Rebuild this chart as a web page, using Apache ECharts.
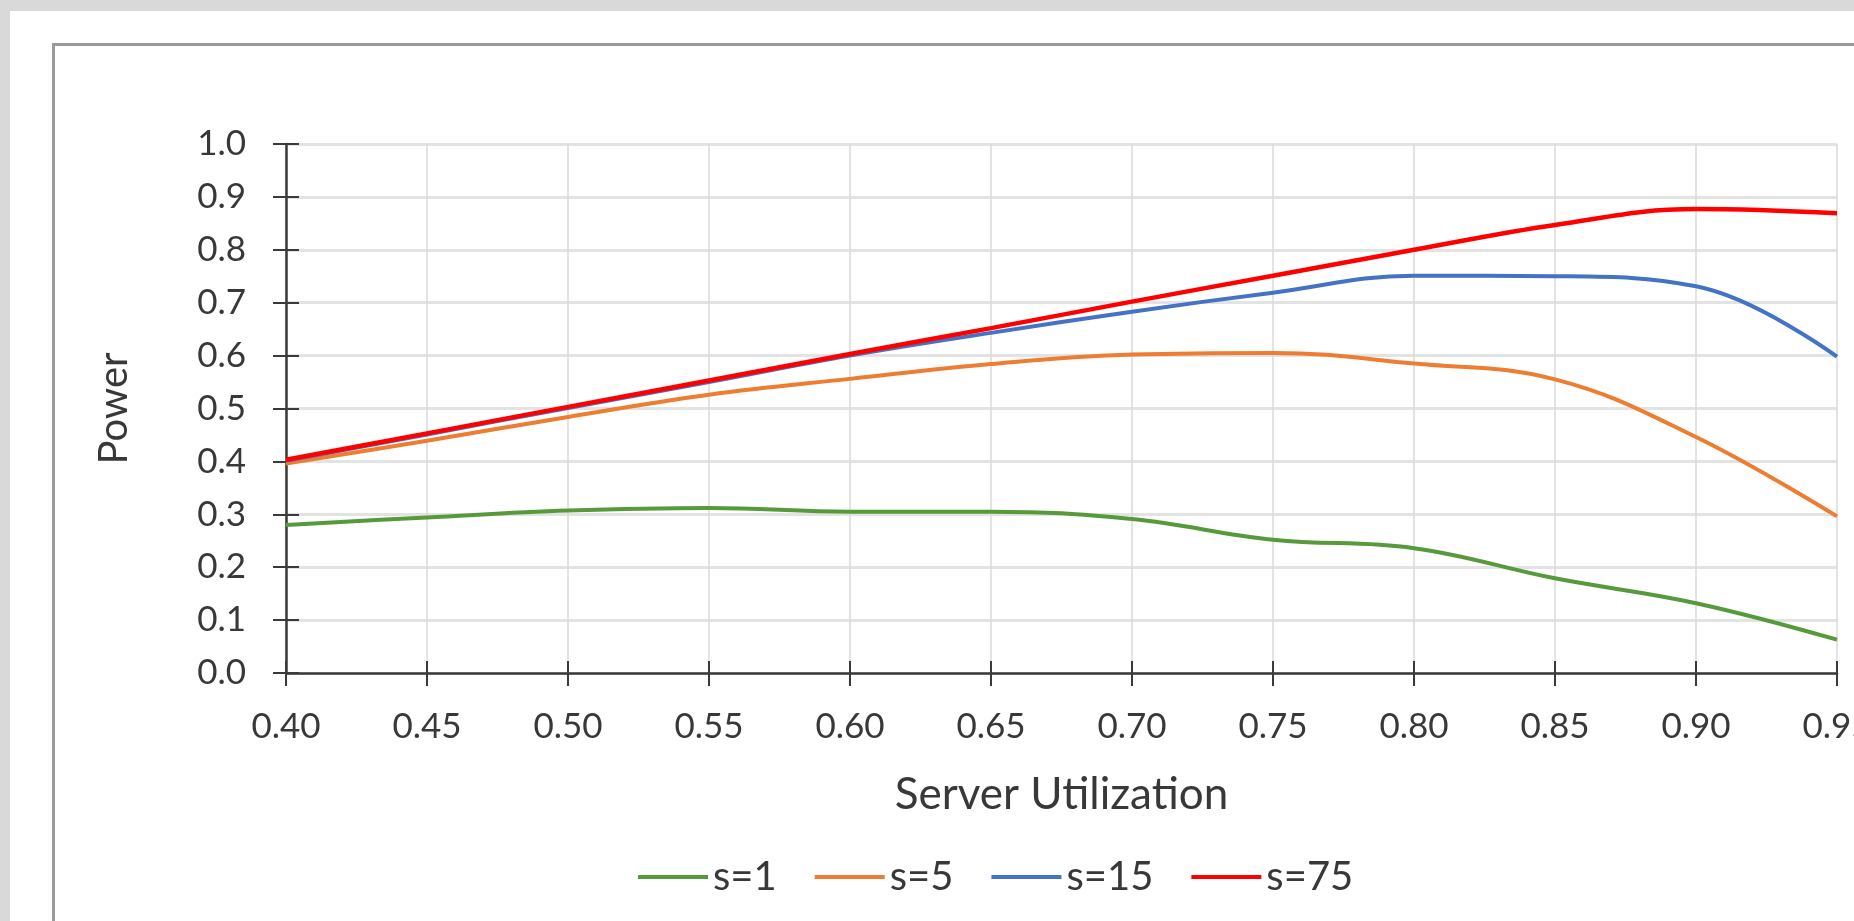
<!DOCTYPE html>
<html>
<head>
<meta charset="utf-8">
<script src="https://cdn.jsdelivr.net/npm/echarts@6/dist/echarts.min.js"></script>
<style>
  html, body { margin: 0; padding: 0; width: 1854px; height: 921px; overflow: hidden; background: #d9d9d9; }
  #page { position: absolute; left: 10px; top: 11px; width: 1900px; height: 1000px; background: #ffffff; }
  #box { position: absolute; left: 52px; top: 43px; width: 1900px; height: 1000px; border: 3px solid #9a9a9a; box-sizing: border-box; }
  #chart { position: absolute; left: 0; top: 0; width: 1854px; height: 921px; }
</style>
</head>
<body>
<div id="page"></div>
<div id="box"></div>
<div id="chart"></div>
<script>
// ---- data ----
const utilization = [0.40, 0.45, 0.50, 0.55, 0.60, 0.65, 0.70, 0.75, 0.80, 0.85, 0.90, 0.95];
const s1  = [0.280, 0.294, 0.307, 0.312, 0.305, 0.305, 0.291, 0.252, 0.236, 0.179, 0.132, 0.063];
const s5  = [0.396, 0.439, 0.484, 0.526, 0.556, 0.584, 0.602, 0.605, 0.585, 0.555, 0.446, 0.296];
const s15 = [0.401, 0.451, 0.501, 0.550, 0.600, 0.643, 0.683, 0.719, 0.751, 0.750, 0.731, 0.598];
const s75 = [0.403, 0.453, 0.503, 0.553, 0.603, 0.652, 0.702, 0.751, 0.800, 0.847, 0.877, 0.869];
const seriesNames = ['s=1', 's=5', 's=15', 's=75'];
const seriesColors = ['#579a3c', '#ED7D31', '#4472C4', '#FF0000'];
const xTitle = 'Server Utilization';
const yTitle = 'Power';

const FONT = 'Lato';
const TXT = '#383838';
const pairs = arr => arr.map((v, i) => [utilization[i], v]);
const allSeries = [s1, s5, s15, s75];

const chart = echarts.init(document.getElementById('chart'), null, { renderer: 'canvas' });
const option = {
  backgroundColor: 'transparent',
  animation: false,
  grid: { left: 286, top: 144, width: 1551, height: 529, containLabel: false, outerBoundsMode: 'none' },
  xAxis: [
    {
      type: 'value', min: 0.40, max: 0.95, interval: 0.05, position: 'bottom',
      name: xTitle, nameLocation: 'middle', nameGap: 100,
      nameTextStyle: { fontFamily: FONT, fontSize: 44, color: TXT },
      axisLine: { onZero: false, lineStyle: { color: '#3a3a3a', width: 2.5 } },
      axisTick: { show: true, inside: false, length: 13, lineStyle: { color: '#3a3a3a', width: 2 } },
      axisLabel: { fontFamily: FONT, fontSize: 35, color: TXT, margin: 36, showMaxLabel: true, showMinLabel: true,
                   hideOverlap: false, formatter: v => v.toFixed(2) },
      splitLine: { show: true, lineStyle: { color: '#dadada', width: 1.5 } }
    },
    {
      type: 'value', min: 0.40, max: 0.95, interval: 0.05, position: 'bottom',
      axisLine: { show: false },
      axisTick: { show: true, inside: true, length: 12, lineStyle: { color: '#3a3a3a', width: 2 } },
      axisLabel: { show: false }, splitLine: { show: false }
    }
  ],
  yAxis: [
    {
      type: 'value', min: 0, max: 1, interval: 0.1, position: 'left',
      name: yTitle, nameLocation: 'middle', nameGap: 152,
      nameTextStyle: { fontFamily: FONT, fontSize: 40, color: TXT },
      axisLine: { show: true, onZero: false, lineStyle: { color: '#3a3a3a', width: 2.5 } },
      axisTick: { show: true, inside: false, length: 13, lineStyle: { color: '#3a3a3a', width: 2 } },
      axisLabel: { fontFamily: FONT, fontSize: 35, color: TXT, margin: 40, formatter: v => v.toFixed(1) },
      splitLine: { show: true, lineStyle: { color: '#e3e3e3', width: 3 } }
    },
    {
      type: 'value', min: 0, max: 1, interval: 0.1, position: 'left',
      axisLine: { show: false },
      axisTick: { show: true, inside: true, length: 13, lineStyle: { color: '#3a3a3a', width: 2 } },
      axisLabel: { show: false }, splitLine: { show: false }
    }
  ],
  legend: {
    left: 633, top: 852, icon: 'rect', itemWidth: 70, itemHeight: 4, itemGap: 38,
    textStyle: { fontFamily: FONT, fontSize: 40, color: TXT },
    data: seriesNames
  },
  series: allSeries.map((arr, i) => ({
    name: seriesNames[i], type: 'line', smooth: 0.4, symbol: 'none',
    xAxisIndex: 0, yAxisIndex: 0,
    lineStyle: { color: seriesColors[i], width: i === 3 ? 4.5 : 4 },
    itemStyle: { color: seriesColors[i] },
    data: pairs(arr), z: 2 + i
  }))
};
chart.setOption(option);
</script>
</body>
</html>
